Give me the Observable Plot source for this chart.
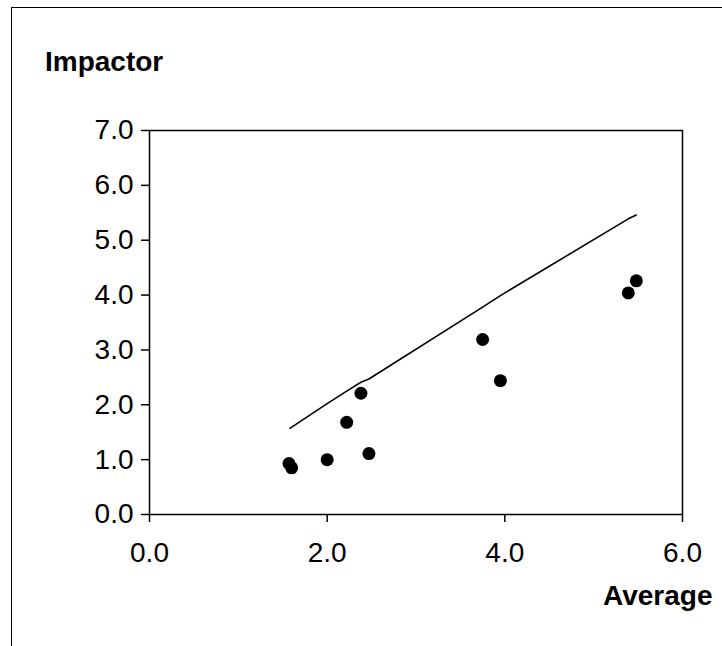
<!DOCTYPE html>
<html>
<head>
<meta charset="utf-8">
<script src="https://cdn.jsdelivr.net/npm/d3@7"></script>
<script src="https://cdn.jsdelivr.net/npm/@observablehq/plot@0.6"></script>
<style>
  html, body { margin: 0; padding: 0; background: #fff; }
  #wrap { position: relative; width: 722px; height: 646px; overflow: hidden; font-family: "Liberation Sans", Arial, sans-serif; }
  #border { position: absolute; left: 11px; top: 7px; width: 720px; height: 650px; border-left: 1px solid #000; border-top: 1px solid #000; }
  .ttl { position: absolute; font-weight: bold; font-size: 28px; color: #000; line-height: 1; white-space: nowrap; }
  #chart { position: absolute; left: 0; top: 0; }
</style>
</head>
<body>
<div id="wrap">
  <div id="border"></div>
  <div id="chart"></div>
  <div class="ttl" id="ytitle" style="left:45px; top:48px;">Impactor</div>
  <div class="ttl" id="xtitle" style="left:603px; top:582px;">Average</div>
</div>
<script>
// Observed points (Average, Impactor)
const avgX = [1.57, 1.60, 2.00, 2.22, 2.38, 2.47, 3.75, 3.95, 5.39, 5.48];
const impY = [0.93, 0.85, 1.00, 1.68, 2.21, 1.11, 3.19, 2.44, 4.04, 4.26];
// Trend line vertices
const lineX = [1.58, 2.00, 2.22, 2.38, 2.47, 3.75, 3.95, 5.39, 5.48];
const lineY = [1.57, 2.02, 2.25, 2.41, 2.47, 3.78, 3.99, 5.39, 5.46];
// Tick labels
const xTicks = [0, 2, 4, 6];
const yTicks = [0, 1, 2, 3, 4, 5, 6, 7];
const xTitle = "Average";
const yTitle = "Impactor";

const points = avgX.map((x, i) => ({x, y: impY[i]}));
const trend = lineX.map((x, i) => ({x, y: lineY[i]}));

const fmt = d3.format(".1f");
const chart = Plot.plot({
  width: 722,
  height: 646,
  marginLeft: 149,
  marginRight: 40,
  marginTop: 130,
  marginBottom: 132,
  style: {fontFamily: "'Liberation Sans', Arial, sans-serif", fontSize: "28px", color: "#000", background: "transparent"},
  x: {domain: [0, 6]},
  y: {domain: [0, 7]},
  marks: [
    Plot.frame({stroke: "#000", strokeWidth: 1.5}),
    Plot.axisX({ticks: xTicks, tickFormat: fmt, tickSize: 8, tickPadding: 20, strokeWidth: 1.5, label: null, fontSize: 28}),
    Plot.axisY({ticks: yTicks, tickFormat: fmt, tickSize: 8, tickPadding: 8, strokeWidth: 1.5, label: null, fontSize: 28}),
    Plot.line(trend, {x: "x", y: "y", stroke: "#000", strokeWidth: 1.6}),
    Plot.dot(points, {x: "x", y: "y", r: 6.5, fill: "#000", stroke: "none"})
  ]
});
document.getElementById("chart").appendChild(chart);
document.getElementById("xtitle").textContent = xTitle;
document.getElementById("ytitle").textContent = yTitle;
</script>
</body>
</html>
